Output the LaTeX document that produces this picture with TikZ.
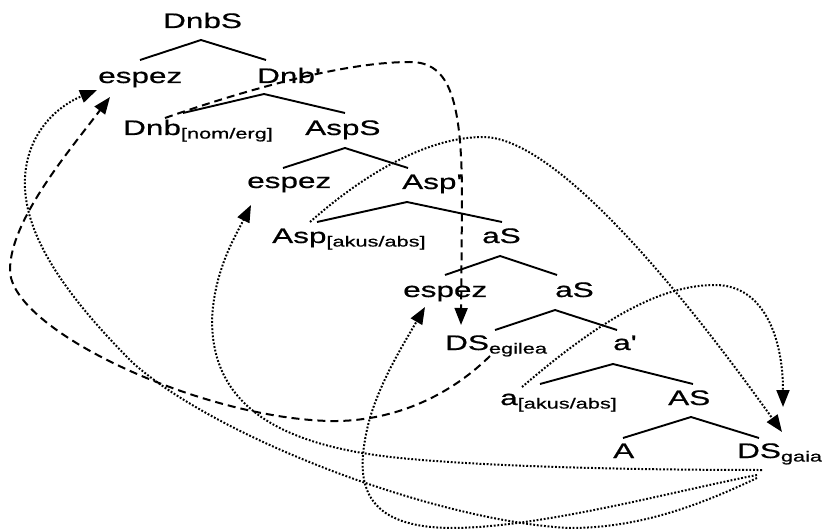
\documentclass[tikz,border=0pt]{standalone}
\usepackage{fontspec}
\setmainfont{Liberation Sans}[FakeStretch=1.5,FakeBold=0.7]
\usetikzlibrary{arrows.meta,calc}
\newcommand{\sbs}[1]{\raisebox{-3.5pt}{\fontsize{14.5}{16}\selectfont #1}}
\tikzset{
  lbl/.style={inner sep=0pt, anchor=base west, font=\fontsize{21}{24}\selectfont},
  branch/.style={line width=1.9pt},
  tipstyle/.style={-{Triangle[length=17pt,width=13pt]}},
  dsh/.style={line width=2pt, dash pattern=on 8pt off 5pt, tipstyle},
  dts/.style={line width=2pt, dash pattern=on 1.8pt off 1.8pt, tipstyle},
}
\begin{document}
\begin{tikzpicture}[x=1pt,y=-1pt]
\useasboundingbox (0,0) rectangle (822,529);
% nodes
\node[lbl] (dnbs) at (163,28) {DnbS};
\node[lbl] (esp1) at (98,83) {espez};
\node[lbl] (dnbp) at (257,83) {Dnb\textquotesingle};
\node[lbl] (dnb) at (123,135) {Dnb\sbs{[nom/erg]}};
\node[lbl] (asps) at (305,135) {AspS};
\node[lbl] (esp2) at (247,188) {espez};
\node[lbl] (aspp) at (402,189) {Asp\textquotesingle};
\node[lbl] (asp) at (272,243) {Asp\sbs{[akus/abs]}};
\node[lbl] (as1) at (482,243) {aS};
\node[lbl] (esp3) at (403,297) {espez};
\node[lbl] (as2) at (555,297) {aS};
\node[lbl] (dse) at (445,350) {DS\sbs{egilea}};
\node[lbl] (ap) at (613,350) {a\textquotesingle};
\node[lbl] (aak) at (500,405) {a\sbs{[akus/abs]}};
\node[lbl] (bigas) at (668,405) {AS};
\node[lbl] (biga) at (613,458) {A};
\node[lbl] (dsg) at (737,458) {DS\sbs{gaia}};
% tree branches
\draw[branch] ($(esp1.base west)+(42,-23)$) -- ($(dnbs.base west)+(38,12)$) -- ($(dnbp.base west)+(9,-23)$);
\draw[branch] ($(dnb.base west)+(60,-22)$) -- ($(dnbp.base west)+(7,11)$) -- ($(asps.base west)+(40,-22)$);
\draw[branch] ($(esp2.base west)+(36,-20)$) -- ($(asps.base west)+(40,13)$) -- ($(aspp.base west)+(6,-21)$);
\draw[branch] ($(asp.base west)+(45,-21)$) -- ($(aspp.base west)+(5,13)$) -- ($(as1.base west)+(20,-21)$);
\draw[branch] ($(esp3.base west)+(42,-22)$) -- ($(as1.base west)+(18,13)$) -- ($(as2.base west)+(2,-22)$);
\draw[branch] ($(dse.base west)+(50,-20)$) -- ($(as2.base west)+(0,13)$) -- ($(ap.base west)+(4,-20)$);
\draw[branch] ($(aak.base west)+(40,-21)$) -- ($(ap.base west)+(0,14)$) -- ($(bigas.base west)+(25,-21)$);
\draw[branch] ($(biga.base west)+(10,-20)$) -- ($(bigas.base west)+(23,12)$) -- ($(dsg.base west)+(22,-20)$);
% dashed movement arrows
\draw[dsh] ($(dnb.base west)+(42,-17)$) .. controls (260,85) and (350,62) .. (410,62)
  .. controls (450,62) and (462,100) .. (462,200) -- ($(dse.base west)+(16,-25)$);
\draw[dsh] ($(dse.base west)+(45,6)$) .. controls (440,405) and (380,422) .. (330,421)
  .. controls (200,418) and (10,330) .. (10,270)
  .. controls (10,220) and (70,150) .. ($(esp1.base west)+(12,14)$);
% dotted movement arrows
\draw[dts] ($(asp.base west)+(38,-21)$) .. controls (380,160) and (440,137) .. (483,137)
  .. controls (560,137) and (695,310) .. ($(dsg.base west)+(45,-26)$);
\draw[dts] ($(aak.base west)+(22,-18)$) .. controls (600,320) and (660,285) .. (715,285)
  .. controls (765,285) and (783,340) .. ($(dsg.base west)+(46,-51)$);
\draw[dts] ($(dsg.base west)+(25,12)$) .. controls (620,470) and (480,466) .. (400,458)
  .. controls (270,445) and (212,400) .. (212,320)
  .. controls (214,270) and (236,235) .. ($(esp2.base west)+(4,17)$);
\draw[dts] ($(dsg.base west)+(20,17)$) .. controls (670,492) and (540,528) .. (450,528)
  .. controls (370,527) and (356,490) .. (365,440)
  .. controls (372,395) and (400,350) .. ($(esp3.base west)+(22,10)$);
\draw[dts] ($(dsg.base west)+(20,20)$) .. controls (700,505) and (640,528) .. (570,528)
  .. controls (440,522) and (220,440) .. (133,363)
  .. controls (60,290) and (22,230) .. (25,177)
  .. controls (28,130) and (60,105) .. ($(esp1.base west)+(-1,7)$);
\end{tikzpicture}
\end{document}
